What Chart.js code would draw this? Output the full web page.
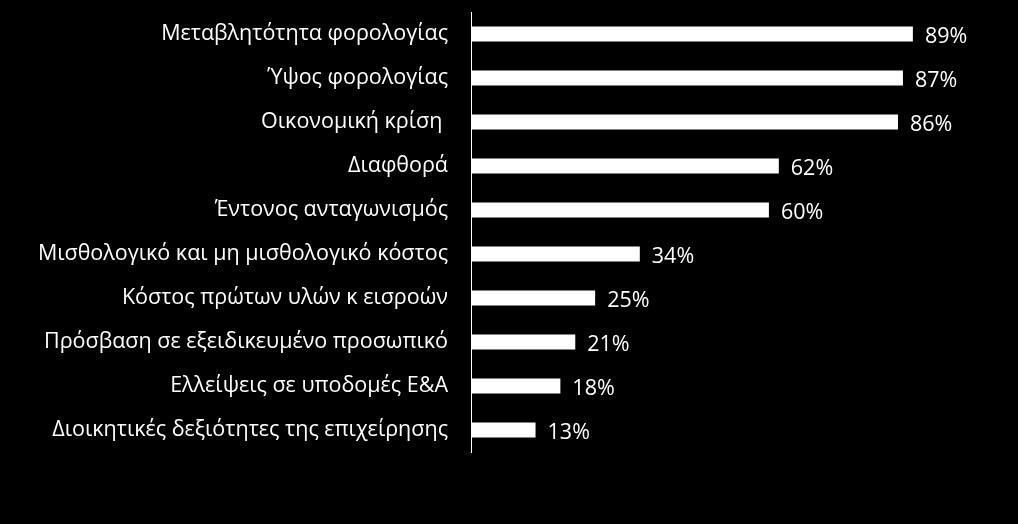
<!DOCTYPE html>
<html>
<head>
<meta charset="utf-8">
<script src="https://cdn.jsdelivr.net/npm/chart.js@4/dist/chart.umd.min.js"></script>
<style>
html,body{margin:0;padding:0;background:#000;}
#wrap{width:1018px;height:524px;position:relative;}
</style>
</head>
<body>
<div id="wrap"><canvas id="c"></canvas></div>
<script>
const categories = [
  "Μεταβλητότητα φορολογίας",
  "Ύψος φορολογίας",
  "Οικονομική κρίση ",
  "Διαφθορά",
  "Έντονος ανταγωνισμός",
  "Μισθολογικό και μη μισθολογικό κόστος",
  "Κόστος πρώτων υλών κ εισροών",
  "Πρόσβαση σε εξειδικευμένο προσωπικό",
  "Ελλείψεις σε υποδομές Ε&Α",
  "Διοικητικές δεξιότητες της επιχείρησης"
];
const values = [89, 87, 86, 62, 60, 34, 25, 21, 18, 13];

const FONT = "'Open Sans', sans-serif";

const valueLabels = {
  id: 'valueLabels',
  afterDatasetsDraw(chart) {
    const ctx = chart.ctx;
    const meta = chart.getDatasetMeta(0);
    ctx.save();
    ctx.fillStyle = '#ffffff';
    ctx.font = "21.5px " + FONT;
    ctx.textAlign = 'left';
    ctx.textBaseline = 'alphabetic';
    meta.data.forEach((bar, i) => {
      ctx.fillText(values[i] + '%', bar.x + 12, bar.y + 8.8);
    });
    ctx.restore();
  }
};

new Chart(document.getElementById('c'), {
  type: 'bar',
  data: {
    labels: categories,
    datasets: [{
      data: values,
      backgroundColor: '#ffffff',
      borderWidth: 0,
      categoryPercentage: 1.0,
      barPercentage: 0.34
    }]
  },
  options: {
    indexAxis: 'y',
    responsive: true,
    maintainAspectRatio: false,
    animation: false,
    layout: { padding: { top: 12, bottom: 72, right: 50.5, left: 0 } },
    plugins: { legend: { display: false }, tooltip: { enabled: false } },
    scales: {
      x: {
        display: false,
        min: 0,
        max: 100
      },
      y: {
        afterFit(scale) {
          scale.width = 471;
          scale.paddingTop = 0;
          scale.paddingBottom = 0;
        },
        grid: { display: false, drawTicks: false },
        border: { display: true, color: '#ffffff', width: 1 },
        ticks: {
          color: '#ffffff',
          padding: 23,
          font: { family: FONT, size: 21.5 }
        }
      }
    }
  },
  plugins: [valueLabels]
});
</script>
</body>
</html>
